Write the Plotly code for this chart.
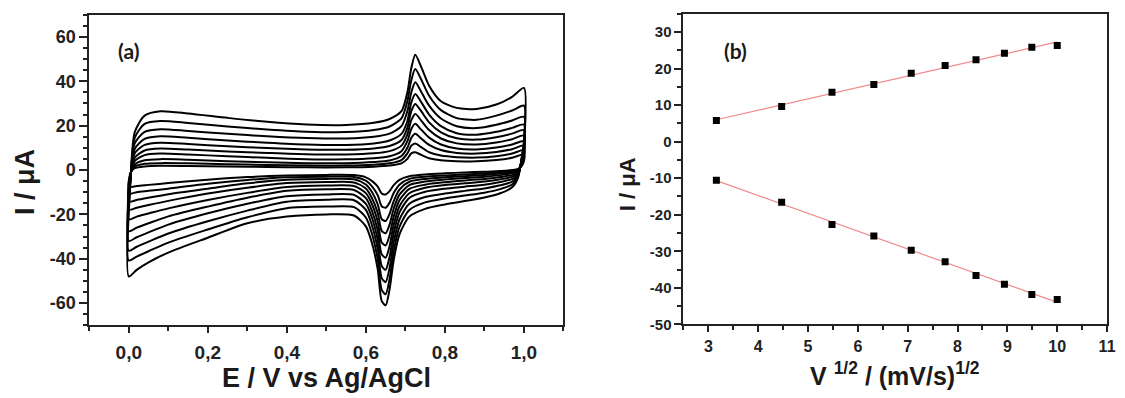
import numpy as np
import plotly.graph_objects as go

# ---------------- Panel (a): cyclic voltammograms ----------------
scan_rates = [10, 20, 30, 40, 50, 60, 70, 80, 90, 100]  # mV/s

# potentials of the forward (anodic) and reverse (cathodic) sweeps, V
E_fwd = [0.0, 0.005, 0.015, 0.04, 0.08, 0.15, 0.25, 0.35, 0.45, 0.55, 0.62, 0.66,
         0.69, 0.705, 0.715, 0.725, 0.74, 0.76, 0.79, 0.83, 0.88, 0.93, 0.97, 1.0]
E_rev = [1.0, 0.995, 0.985, 0.97, 0.94, 0.9, 0.85, 0.8, 0.75, 0.71, 0.685, 0.67, 0.66,
         0.65, 0.64, 0.63, 0.615, 0.6, 0.57, 0.5, 0.4, 0.3, 0.2, 0.1, 0.05, 0.02, 0.0]

# currents (uA), one list per scan rate
fwd_10 = [-7.7, -1, 0.8, 1.6, 1.9, 1.8, 1.6, 1.4, 1.2, 1.2, 1.5, 2.0, 3.0, 5.0, 7.5, 8, 6.8, 5.3, 4.4, 4.0, 3.9, 4.5, 5.5, 7]
fwd_20 = [-10.6, -1.2, 1.5, 2.8, 3.1, 3.0, 2.6, 2.3, 2.0, 2.0, 2.4, 3.0, 4.5, 7.5, 11, 12, 10.3, 8, 6.5, 5.8, 5.6, 6.2, 7.4, 9]
fwd_30 = [-14.3, -1.4, 2.5, 4.4, 4.9, 4.6, 4.0, 3.5, 3.1, 3.1, 3.6, 4.3, 6.3, 10, 14.5, 16.3, 14.2, 11.3, 9, 7.7, 7.4, 8.1, 9.4, 11]
fwd_40 = [-17.9, -1.6, 4, 6.7, 7.4, 7.0, 6.2, 5.5, 4.9, 4.8, 5.3, 6.2, 8.5, 13, 18.5, 20.8, 18.2, 14.6, 11.5, 9.7, 9.3, 10.1, 11.5, 13]
fwd_50 = [-22.3, -1.8, 5.5, 8.8, 9.7, 9.2, 8.4, 7.7, 7.1, 7.0, 7.5, 8.5, 11.0, 16, 22.5, 25.3, 22.3, 18, 14.2, 12, 11.5, 12.4, 13.9, 15.5]
fwd_60 = [-27.6, -2, 7.5, 11.3, 12.3, 11.7, 10.7, 9.9, 9.3, 9.1, 9.7, 10.8, 13.5, 19, 26.5, 29.8, 26.5, 21.5, 17, 14.3, 13.7, 14.8, 16.4, 18]
fwd_70 = [-32, -2.2, 9.5, 14, 15.2, 14.5, 13.3, 12.3, 11.5, 11.3, 12.0, 13.3, 16.3, 22, 30.5, 34.3, 30.6, 25, 19.8, 16.6, 15.9, 17.2, 19, 20.5]
fwd_80 = [-36.4, -2.4, 12, 17.2, 18.4, 17.6, 16.3, 15.2, 14.4, 14.2, 15.0, 16.4, 19.8, 26.5, 35, 39.5, 35.3, 29, 23.2, 19.7, 18.9, 20.4, 22.3, 24]
fwd_90 = [-40.8, -2.6, 14.5, 20.8, 22.1, 21.2, 19.6, 18.3, 17.3, 17.1, 18.0, 19.6, 23.3, 31, 40.5, 45.5, 40.8, 33.5, 27, 23.4, 22.6, 24.5, 26.8, 29]
fwd_100 = [-48, -3, 17, 24.5, 26.5, 25.5, 23.5, 21.7, 20.5, 20.3, 21.3, 23.0, 26.5, 35, 46, 52, 46.5, 38, 31, 28, 27.5, 29.5, 33, 37]

rev_10 = [4, 2, 0.5, 0, -0.5, -0.8, -1.1, -1.5, -2, -2.8, -4.4, -6.9, -9.5, -11, -10.6, -7.5, -4.9, -3.3, -2.3, -2.2, -2.5, -3.2, -4.4, -5.9, -6.7, -7.2, -7.7]
rev_20 = [5, 2.5, 0.2, -0.5, -1, -1.5, -2, -2.5, -3, -4, -6.6, -10.5, -14.7, -17, -16.3, -11.4, -7.3, -4.8, -3.1, -3.0, -3.3, -4.5, -6.2, -8.4, -9.4, -10, -10.6]
rev_30 = [6, 3, -0.2, -1, -1.6, -2.2, -2.8, -3.3, -4, -5.3, -8.8, -14.2, -19.8, -23, -22.1, -15.5, -9.8, -6.5, -4.2, -4.0, -4.4, -6, -8.4, -10.9, -12.5, -13.5, -14.3]
rev_40 = [7, 3.5, -0.6, -1.5, -2.3, -3, -3.6, -4.3, -5.2, -6.8, -11.1, -17.7, -24.6, -28.5, -27.4, -19.3, -12.5, -8.3, -5.6, -5.4, -5.9, -8, -10.6, -13.9, -15.8, -17, -17.9]
rev_50 = [8, 4, -1, -2.3, -3.2, -4, -4.7, -5.5, -6.6, -8.5, -13.6, -21.3, -29.4, -34, -32.7, -23.3, -15.2, -10.4, -7.2, -7.0, -7.7, -10.3, -13.5, -17.3, -19.6, -21, -22.3]
rev_60 = [9, 4.5, -1.5, -3.1, -4.2, -5.2, -6, -6.8, -8, -10.5, -16.3, -25, -34.3, -39.5, -38, -27.3, -18.2, -12.7, -9, -8.7, -9.4, -12.5, -16.5, -20.9, -24, -26, -27.6]
rev_70 = [10, 5, -2, -4.1, -5.4, -6.6, -7.5, -8.4, -9.8, -12.6, -19.1, -28.8, -39.2, -45, -43.3, -31.5, -21.3, -15.3, -11.2, -11, -11.8, -15.2, -19.5, -24.6, -28.1, -30.3, -32]
rev_80 = [11, 5.5, -2.5, -5.3, -6.9, -8.3, -9.4, -10.6, -12.2, -15.2, -22.3, -32.9, -44.1, -50.5, -48.7, -35.7, -24.7, -18, -13.6, -13.4, -14.3, -18.3, -23.1, -28.6, -32.3, -34.6, -36.4]
rev_90 = [12, 6, -3, -6.5, -8.6, -10.2, -11.5, -12.8, -14.6, -18, -25.6, -37, -49.2, -56, -54, -40.3, -28.5, -21.4, -16.7, -16.5, -17.2, -21.3, -26.8, -32.7, -36.6, -39, -40.8]
rev_100 = [13, 6.5, -3.5, -7.8, -10.5, -12.4, -14, -15.5, -17.5, -21, -29, -41, -53.8, -61, -59, -44.8, -32.7, -25.4, -20.5, -20, -21, -24, -30.5, -37.2, -41.6, -45, -48]

fwd_all = [fwd_10, fwd_20, fwd_30, fwd_40, fwd_50, fwd_60, fwd_70, fwd_80, fwd_90, fwd_100]
rev_all = [rev_10, rev_20, rev_30, rev_40, rev_50, rev_60, rev_70, rev_80, rev_90, rev_100]

a_xtickvals = [0.0, 0.2, 0.4, 0.6, 0.8, 1.0]
a_xticktext = ["0,0", "0,2", "0,4", "0,6", "0,8", "1,0"]
a_ytickvals = [-60, -40, -20, 0, 20, 40, 60]
a_yticktext = ["-60", "-40", "-20", "0", "20", "40", "60"]

# ---------------- Panel (b): peak current vs sqrt(scan rate) ----------------
sqrt_v = [3.16, 4.47, 5.48, 6.32, 7.07, 7.75, 8.37, 8.94, 9.49, 10.0]
I_pa = [5.8, 9.6, 13.5, 15.6, 18.7, 20.8, 22.4, 24.2, 25.8, 26.3]
I_pc = [-10.6, -16.6, -22.7, -25.8, -29.7, -32.9, -36.6, -39.0, -41.8, -43.2]
b_xtickvals = [3, 4, 5, 6, 7, 8, 9, 10, 11]
b_xticktext = ["3", "4", "5", "6", "7", "8", "9", "10", "11"]
b_ytickvals = [-50, -40, -30, -20, -10, 0, 10, 20, 30]
b_yticktext = ["-50", "-40", "-30", "-20", "-10", "0", "10", "20", "30"]

W, H = 1125, 398
FAM = "Liberation Sans"
fig = go.Figure()

for v, f, r in zip(scan_rates, fwd_all, rev_all):
    fig.add_trace(go.Scatter(
        x=E_fwd + E_rev, y=f + r, mode="lines",
        line=dict(color="black", width=2, shape="spline", smoothing=0.7),
        xaxis="x", yaxis="y", showlegend=False, name=f"{v} mV/s"))

sx = np.array(sqrt_v)
for vals in (I_pa, I_pc):
    k, b0 = np.polyfit(sx, np.array(vals), 1)
    xs = np.array([sx.min(), sx.max()])
    fig.add_trace(go.Scatter(x=xs, y=k * xs + b0, mode="lines",
                             line=dict(color="#f08a8a", width=1.2),
                             xaxis="x2", yaxis="y2", showlegend=False))
    fig.add_trace(go.Scatter(x=sqrt_v, y=vals, mode="markers",
                             marker=dict(symbol="square", size=7, color="black"),
                             xaxis="x2", yaxis="y2", showlegend=False))

def px(x):
    return x / W

def py(y):
    return 1 - y / H

def bold(labels):
    return [f"<b>{t}</b>" for t in labels]

fig.update_layout(
    width=W, height=H, margin=dict(l=0, r=0, t=0, b=0),
    paper_bgcolor="white", plot_bgcolor="white",
    font=dict(family=FAM, size=17, color="#222"),
    xaxis=dict(domain=[px(90), px(568)], range=[-0.1, 1.1], anchor="y"),
    yaxis=dict(domain=[py(332), py(15)], range=[-70, 70], anchor="x"),
    xaxis2=dict(domain=[px(689), px(1116)], range=[2.5, 11], anchor="y2"),
    yaxis2=dict(domain=[py(331), py(14)], range=[-50, 35], anchor="x2"),
)
fig.update_xaxes(showline=True, linecolor="#222", linewidth=2, mirror=True,
                 showgrid=False, zeroline=False, ticks="outside", tickcolor="#222",
                 tickwidth=1.5, ticklen=6)
fig.update_yaxes(showline=True, linecolor="#222", linewidth=2, mirror=True,
                 showgrid=False, zeroline=False, ticks="outside", tickcolor="#222",
                 tickwidth=1.5, ticklen=8)

fig.layout.xaxis.update(tickmode="array", tickvals=a_xtickvals, ticktext=bold(a_xticktext),
                        tickfont=dict(family=FAM, size=19, color="#222"),
                        ticklabelstandoff=3,
                        minor=dict(dtick=0.1, tick0=0, ticklen=4, ticks="outside",
                                   tickcolor="#222"))
fig.layout.yaxis.update(tickmode="array", tickvals=a_ytickvals, ticktext=bold(a_yticktext),
                        tickfont=dict(family=FAM, size=18, color="#222"),
                        minor=dict(dtick=5, tick0=0, ticklen=4, ticks="outside",
                                   tickcolor="#222"))
fig.layout.xaxis2.update(tickmode="array", tickvals=b_xtickvals, ticktext=bold(b_xticktext),
                         tickfont=dict(family=FAM, size=16, color="#222"),
                         minor=dict(dtick=0.5, tick0=0, ticklen=4, ticks="outside",
                                    tickcolor="#222"))
fig.layout.yaxis2.update(tickmode="array", tickvals=b_ytickvals, ticktext=bold(b_yticktext),
                         ticklen=7,
                         tickfont=dict(family=FAM, size=15, color="#222"),
                         minor=dict(dtick=5, tick0=0, ticklen=4, ticks="outside",
                                    tickcolor="#222"))

ann = [
    dict(text="<b>E / V vs Ag/AgCl</b>", x=px(329), y=py(386), size=27, family=FAM),
    dict(text="<b>I / μA</b>", x=px(25), y=py(186), size=27, family=FAM, textangle=-90),
    dict(text="<b>I / μA</b>", x=px(632), y=py(188), size=22, family=FAM, textangle=-90),
    dict(text="<b>V <sup>1/2</sup> / (mV/s)<sup>1/2</sup></b>", x=px(902), y=py(382),
         size=25, family=FAM),
    dict(text="<b>(a)</b>", x=px(130), y=py(52), size=21, family="Lato"),
    dict(text="<b>(b)</b>", x=px(741), y=py(52), size=21, family="Lato"),
]
for a in ann:
    extra = {"textangle": a["textangle"]} if "textangle" in a else {}
    fig.add_annotation(xref="paper", yref="paper", showarrow=False,
                       xanchor="center", yanchor="middle", text=a["text"],
                       x=a["x"], y=a["y"],
                       font=dict(family=a["family"], size=a["size"], color="#1a1a1a"),
                       **extra)

fig.write_html("out.html")
